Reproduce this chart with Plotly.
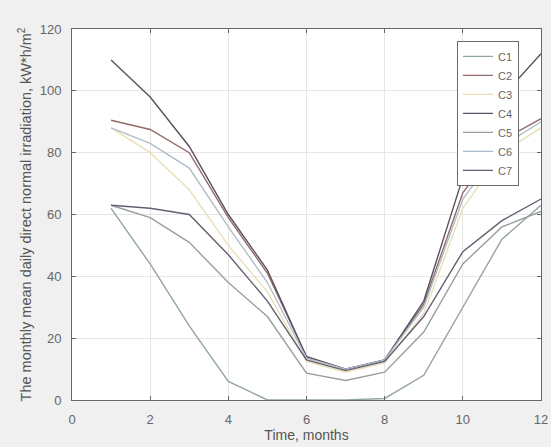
import plotly.graph_objects as go

months = [1, 2, 3, 4, 5, 6, 7, 8, 9, 10, 11, 12]
C1 = [62, 44, 24, 6, 0, 0, 0, 0.5, 8, 30, 52, 63]
C2 = [90.5, 87.5, 80, 59, 41, 14, 10, 13, 31, 67, 84, 91]
C3 = [88, 80, 68, 50, 35, 12.5, 9, 12, 28, 62, 80, 88]
C4 = [110, 98, 82, 60, 42, 14, 10, 13, 32, 72, 98, 112]
C5 = [63, 59, 51, 38, 27, 8.7, 6.3, 9, 22, 44, 56, 61]
C6 = [88, 83, 75, 56, 38, 13.5, 10, 13, 30, 65, 82, 90]
C7 = [63, 62, 60, 47, 32, 13, 9.5, 12.5, 27, 48, 58, 65]

series = [("C1", C1, "#93a4a4"), ("C2", C2, "#936a6a"), ("C3", C3, "#e8e0b6"),
          ("C4", C4, "#575160"), ("C5", C5, "#989f98"), ("C6", C6, "#afbdca"),
          ("C7", C7, "#685d70")]

fig = go.Figure()
for name, vals, col in series:
    fig.add_trace(go.Scatter(x=months, y=vals, mode="lines", name=name,
                             line=dict(color=col, width=1.4)))

font_fam = "Liberation Sans, Arial"
axis_common = dict(showline=True, linecolor="#666666", linewidth=1, mirror="ticks",
                   ticks="inside", ticklen=4, tickcolor="#666666", automargin=False,
                   showgrid=True, gridcolor="#e6e6e6", gridwidth=1, zeroline=False,
                   tickfont=dict(family=font_fam, size=13, color="#666666"))

fig.update_layout(
    width=551, height=447,
    margin=dict(l=72, r=10, t=29, b=47),
    paper_bgcolor="#f0f0f0", plot_bgcolor="white",
    xaxis=dict(range=[0, 12], tickvals=[0, 2, 4, 6, 8, 10, 12], ticklabelstandoff=7,
               title=dict(text="Time, months", standoff=4,
                          font=dict(family=font_fam, size=14, color="#555555")),
               **axis_common),
    yaxis=dict(range=[0, 120], tickvals=[0, 20, 40, 60, 80, 100, 120], ticklabelstandoff=7,
               title=dict(text="The monthly mean daily direct normal irradiation, kW*h/m<sup>2</sup>", standoff=4,
                          font=dict(family=font_fam, size=14.5, color="#555555")),
               **axis_common),
    legend=dict(x=0.953, y=0.968, xanchor="right", yanchor="top", bgcolor="white",
                bordercolor="#6a6a6a", borderwidth=1, tracegroupgap=0,
                font=dict(family=font_fam, size=11, color="#666666")),
    showlegend=True,
)

fig.write_html("out.html")
